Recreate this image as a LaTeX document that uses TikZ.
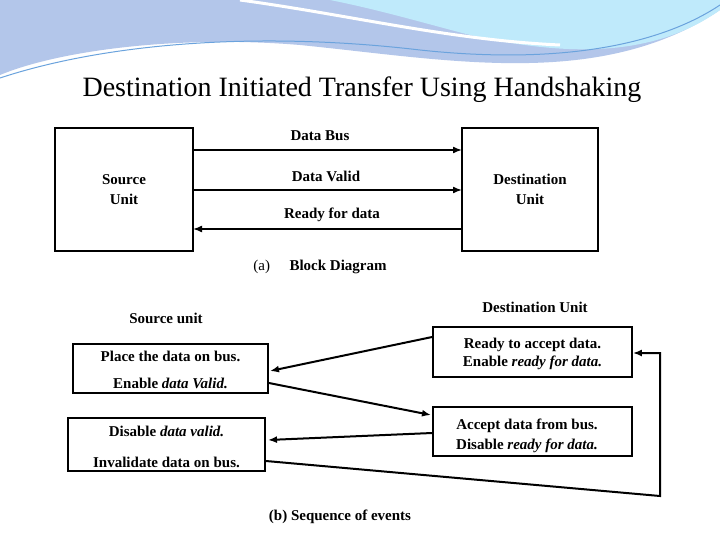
\documentclass[tikz,border=0pt]{standalone}
\usepackage{fontspec}
\usetikzlibrary{arrows.meta}
\setmainfont{Liberation Serif}
\begin{document}
\begin{tikzpicture}[x=1pt,y=-1pt,
  box/.style={draw,line width=1.8pt},
  arr/.style={line width=2pt,-{Latex[length=9pt,width=7pt]}},
  lbl/.style={font=\bfseries\fontsize{15}{20}\selectfont,align=center,inner sep=0pt},
  txt/.style={font=\fontsize{15}{18}\selectfont\bfseries,inner sep=0pt}]
\useasboundingbox (0,0) rectangle (720,540);
\fill[white] (0,0) rectangle (720,540);
% top wave decoration
\fill[cyan!50!blue!30!white] (0,0) -- (720,0) -- (720,10) .. controls (600,90) and (450,60) .. (300,45) .. controls (180,35) and (60,50) .. (0,75) -- cycle;
\fill[cyan!25] (330,0) -- (720,0) -- (720,10) .. controls (650,60) and (560,55) .. (470,35) .. controls (420,22) and (380,10) .. (330,0) -- cycle;
\draw[cyan!60!blue!60,line width=1pt] (0,78) .. controls (100,45) and (250,30) .. (420,50) .. controls (560,65) and (660,45) .. (720,5);
\draw[white,line width=3pt] (240,0) .. controls (350,15) and (450,40) .. (560,45);
\node[font=\fontsize{28}{32}\selectfont] (title) at (362,90) {Destination Initiated Transfer Using Handshaking};
% (a)
\node[box,minimum width=138,minimum height=123] (S) at (124,189.5) {};
\node[box,minimum width=136,minimum height=123] (Dd) at (530,189.5) {};
\node[lbl] (st) at (S) {Source\\Unit};
\node[lbl] (dt) at (Dd) {Destination\\Unit};
\coordinate (s1) at (193,150); \coordinate (d1) at (462,150);
\coordinate (s2) at (193,190); \coordinate (d2) at (462,190);
\coordinate (s3) at (193,229); \coordinate (d3) at (462,229);
\draw[arr,line width=1.5pt] (s1) -- (d1);
\draw[arr,line width=1.5pt] (s2) -- (d2);
\draw[arr,line width=1.5pt] (d3) -- (s3);
\node[txt] (l1) at (320,136) {Data Bus};
\node[txt] (l2) at (326,176) {Data Valid};
\node[txt] (l3) at (332,215) {Ready for data};
\node[txt] (ca) at (320,267) {\mdseries(a)\hspace{1.3em}\bfseries Block Diagram};
% (b)
\node[txt] (su) at (166,318) {Source unit};
\node[txt] (du) at (535,307) {Destination Unit};
\node[box,minimum width=195,minimum height=49] (P) at (170.5,368.5) {};
\node[txt] at (170.5,356) {Place the data on bus.};
\node[txt] at (170.5,383) {Enable \textit{data Valid.}};
\node[box,minimum width=199,minimum height=50] (R) at (532.5,352) {};
\node[txt] at (532.5,345) {Ready to accept data.};
\node[txt] at (532.5,363) {Enable \textit{ready for data.}};
\node[box,minimum width=197,minimum height=53] (D) at (166.5,444.5) {};
\node[txt] at (166.5,431) {Disable \textit{data valid.}};
\node[txt] at (166.5,462) {Invalidate data on bus.};
\node[box,minimum width=199,minimum height=49] (A) at (532.5,431.5) {};
\node[txt] at (527,426) {Accept data from bus.};
\node[txt] at (527,446) {Disable \textit{ready for data.}};
\draw[arr] (R.west |- 0,337) -- (270,371);
\draw[arr] (P.east |- 0,383) -- (431,415);
\draw[arr] (A.west |- 0,433) -- (268,440);
\coordinate (c1) at (660,496); \coordinate (c2) at (660,353);
\draw[arr] (D.east |- 0,461) -- (c1) -- (c2) -- (R.east |- c2);
\node[txt] (cb) at (340,517) {(b) Sequence of events};
\end{tikzpicture}
\end{document}
